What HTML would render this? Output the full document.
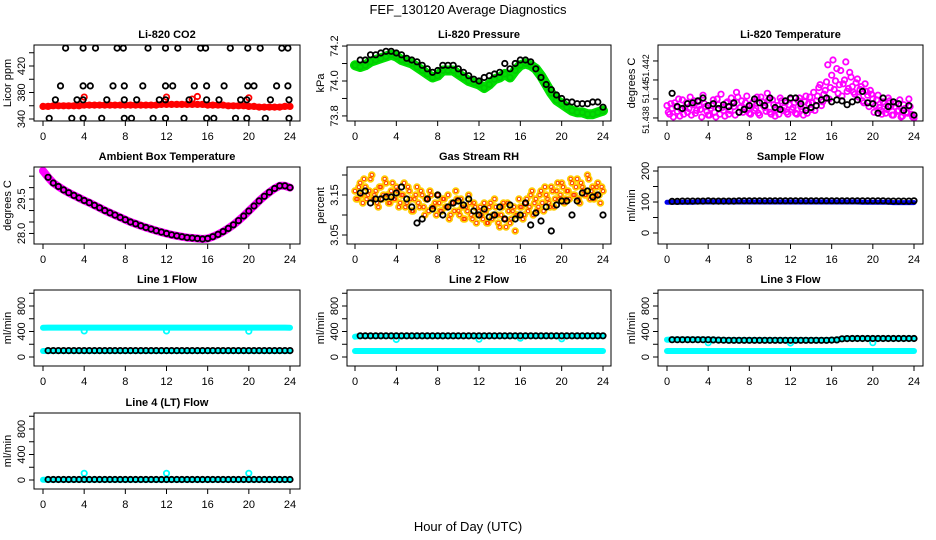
<!DOCTYPE html>
<html><head><meta charset="utf-8">
<style>
html,body{margin:0;padding:0;background:#fff;}
svg{display:block;font-family:"Liberation Sans",sans-serif;}
</style></head>
<body>
<svg id="chart" width="936" height="540" viewBox="0 0 936 540" xmlns="http://www.w3.org/2000/svg">
<rect width="936" height="540" fill="#fff"/>
<text x="468" y="14" text-anchor="middle" font-size="13">FEF_130120  Average Diagnostics</text>
<text x="468" y="531" text-anchor="middle" font-size="13">Hour of Day (UTC)</text>
</svg>
<script>
// ---------- data ----------
const bandHours = [0,0.5,1,1.5,2,2.5,3,3.5,4,4.5,5,5.5,6,6.5,7,7.5,8,8.5,9,9.5,10,10.5,11,11.5,12,12.5,13,13.5,14,14.5,15,15.5,16,16.5,17,17.5,18,18.5,19,19.5,20,20.5,21,21.5,22,22.5,23,23.5,24];
const avgHours = [0.5,1,1.5,2,2.5,3,3.5,4,4.5,5,5.5,6,6.5,7,7.5,8,8.5,9,9.5,10,10.5,11,11.5,12,12.5,13,13.5,14,14.5,15,15.5,16,16.5,17,17.5,18,18.5,19,19.5,20,20.5,21,21.5,22,22.5,23,23.5,24];
const noisyHoursA = [0,0.25,0.5,0.75,1,1.25,1.5,1.75,2,2.25,2.5,2.75,3,3.25,3.5,3.75,4,4.25,4.5,4.75,5,5.25,5.5,5.75,6,6.25,6.5,6.75,7,7.25,7.5,7.75,8,8.25,8.5,8.75,9,9.25,9.5,9.75,10,10.25,10.5,10.75,11,11.25,11.5,11.75,12,12.25,12.5,12.75,13,13.25,13.5,13.75,14,14.25,14.5,14.75,15,15.25,15.5,15.75,16,16.25,16.5,16.75,17,17.25,17.5,17.75,18,18.25,18.5,18.75,19,19.25,19.5,19.75,20,20.25,20.5,20.75,21,21.25,21.5,21.75,22,22.25,22.5,22.75,23,23.25,23.5,23.75,24];
const noisyHoursB = [0.125,0.375,0.625,0.875,1.125,1.375,1.625,1.875,2.125,2.375,2.625,2.875,3.125,3.375,3.625,3.875,4.125,4.375,4.625,4.875,5.125,5.375,5.625,5.875,6.125,6.375,6.625,6.875,7.125,7.375,7.625,7.875,8.125,8.375,8.625,8.875,9.125,9.375,9.625,9.875,10.125,10.375,10.625,10.875,11.125,11.375,11.625,11.875,12.125,12.375,12.625,12.875,13.125,13.375,13.625,13.875,14.125,14.375,14.625,14.875,15.125,15.375,15.625,15.875,16.125,16.375,16.625,16.875,17.125,17.375,17.625,17.875,18.125,18.375,18.625,18.875,19.125,19.375,19.625,19.875,20.125,20.375,20.625,20.875,21.125,21.375,21.625,21.875,22.125,22.375,22.625,22.875,23.125,23.375,23.625,23.875];

// CO2
const co2Band = [359,359,360,360,360,360,360,360,361,361,361,361,361,361,361,361,361,361,361,361,361,361,361,362,362,362,362,362,362,362,362,362,361,361,361,361,360,360,360,360,359,359,358,358,358,358,358,359,359];
const co2SpikeHours = [4,12,14.5,15,20];
const co2SpikeVals = [373,373,370,374,372];
const co2Hours = [2.2,3.9,5.1,7.2,7.8,10.2,11.9,13.1,15.3,15.8,18.2,19.9,21.1,23.2,23.8, 1.7,3.9,4.6,6.8,7.9,9.7,11.9,12.6,14.7,15.9,17.6,19.9,20.5,22.7,23.8, 1.2,3.3,3.9,6.2,7.9,9.1,11.3,11.9,14.2,15.9,17.1,19.2,19.8,22.1,23.9, 0.6,2.8,3.9,5.7,7.9,8.6,10.7,11.9,13.7,15.9,16.6,18.7,19.8,21.6,23.9];
const co2Vals = [447,447,447,447,447,447,447,447,447,447,447,447,447,447,447, 390,390,390,390,390,390,390,390,390,390,390,390,390,390,390, 369,369,369,369,369,369,369,369,369,369,369,369,369,369,369, 341,341,341,341,341,341,341,341,341,341,341,341,341,341,341];

// Pressure
const presBand = [74.09,74.08,74.09,74.11,74.12,74.13,74.14,74.15,74.14,74.12,74.11,74.10,74.08,74.06,74.04,74.02,74.03,74.06,74.06,74.06,74.04,74.02,74.00,73.99,73.98,73.96,73.98,74.01,74.02,74.04,74.02,74.06,74.09,74.10,74.09,74.07,74.03,73.98,73.93,73.89,73.87,73.85,73.83,73.82,73.82,73.81,73.81,73.82,73.83];
const presAvg = [74.12,74.12,74.15,74.15,74.16,74.17,74.17,74.16,74.15,74.13,74.12,74.11,74.09,74.07,74.05,74.06,74.09,74.09,74.09,74.07,74.05,74.03,74.01,74.00,74.02,74.03,74.04,74.05,74.10,74.07,74.10,74.12,74.12,74.11,74.07,74.02,73.98,73.95,73.92,73.90,73.88,73.88,73.87,73.87,73.87,73.88,73.88,73.85];

// Li-820 temperature
const tempA = [51.4393,51.4384,51.4390,51.4396,51.4387,51.4382,51.4399,51.4391,51.4386,51.4402,51.4394,51.4385,51.4397,51.4389,51.4404,51.4392,51.4383,
51.4390,51.4399,51.4381,51.4394,51.4405,51.4388,51.4396,51.4384,51.4401,51.4392,51.4407,51.4386,51.4398,51.4390,51.4403,51.4385,
51.4395,51.4388,51.4402,51.4383,51.4397,51.4391,51.4406,51.4386,51.4399,51.4382,51.4393,51.4401,51.4388,51.4396,51.4384,51.4400,
51.4391,51.4385,51.4398,51.4392,51.4383,51.4403,51.4395,51.4389,51.4407,51.4398,51.4412,51.4393,51.4405,51.4418,51.4400,51.4425,
51.4410,51.4432,51.4415,51.4403,51.4420,51.4408,51.4428,51.4413,51.4405,51.4421,51.4410,51.4398,51.4416,51.4404,51.4409,51.4400,
51.4393,51.4404,51.4388,51.4397,51.4385,51.4401,51.4392,51.4383,51.4396,51.4388,51.4381,51.4394,51.4386,51.4400,51.4384,51.4380];
const tempB = [51.4386,51.4395,51.4381,51.4392,51.4400,51.4389,51.4384,51.4396,51.4390,51.4383,51.4398,51.4388,51.4393,51.4381,51.4395,51.4387,
51.4383,51.4393,51.4386,51.4400,51.4384,51.4391,51.4382,51.4397,51.4388,51.4395,51.4383,51.4402,51.4391,51.4386,51.4396,51.4389,
51.4384,51.4397,51.4390,51.4385,51.4402,51.4393,51.4387,51.4399,51.4384,51.4394,51.4389,51.4384,51.4398,51.4391,51.4386,51.4394,
51.4389,51.4396,51.4384,51.4401,51.4389,51.4397,51.4385,51.4402,51.4396,51.4388,51.4403,51.4415,51.4397,51.4409,51.4436,51.4412,
51.4441,51.4419,51.4406,51.4430,51.4416,51.4439,51.4411,51.4423,51.4407,51.4417,51.4402,51.4413,51.4396,51.4408,51.4392,51.4405,
51.4386,51.4399,51.4391,51.4384,51.4395,51.4389,51.4398,51.4383,51.4392,51.4387,51.4399,51.4382,51.4390,51.4385,51.4392,51.4381];
const tempAvg = [51.4406,51.4392,51.4390,51.4395,51.4396,51.4398,51.4401,51.4393,51.4395,51.4390,51.4394,51.4392,51.4396,51.4386,51.4389,51.4393,51.4400,51.4396,51.4393,51.4401,51.4391,51.4389,51.4398,51.4401,51.4401,51.4395,51.4388,51.4391,51.4393,51.4399,51.4401,51.4397,51.4399,51.4398,51.4394,51.4397,51.4399,51.4408,51.4396,51.4395,51.4385,51.4401,51.4392,51.4397,51.4395,51.4388,51.4393,51.4383];

// Ambient box temperature
const ambBand = [30.73,30.45,30.20,30.05,29.90,29.78,29.66,29.55,29.44,29.34,29.23,29.12,29.00,28.90,28.80,28.70,28.60,28.50,28.42,28.34,28.26,28.19,28.12,28.06,28.00,27.94,27.90,27.86,27.82,27.80,27.78,27.76,27.78,27.86,27.96,28.08,28.22,28.38,28.56,28.76,28.98,29.20,29.42,29.62,29.80,29.96,30.08,30.08,30.00];
const ambAvg = [30.45,30.20,30.05,29.90,29.78,29.66,29.55,29.44,29.34,29.23,29.12,29.00,28.90,28.80,28.70,28.60,28.50,28.42,28.34,28.26,28.19,28.12,28.06,28.00,27.94,27.90,27.86,27.82,27.80,27.78,27.76,27.78,27.86,27.96,28.08,28.22,28.38,28.56,28.76,28.98,29.20,29.42,29.62,29.80,29.96,30.08,30.08,30.00];

// Gas stream RH
const rhA = [3.16,3.14,3.18,3.13,3.17,3.15,3.19,3.14,3.16,3.12,3.17,3.15,3.18,3.13,3.16,3.14,3.17,
3.12,3.15,3.18,3.13,3.16,3.11,3.14,3.17,3.12,3.15,3.10,3.14,3.16,3.12,3.13,3.15,
3.11,3.14,3.12,3.15,3.10,3.13,3.16,3.11,3.14,3.09,3.12,3.15,3.10,3.13,3.08,3.11,
3.10,3.13,3.08,3.12,3.09,3.14,3.10,3.07,3.12,3.09,3.13,3.08,3.11,3.06,3.10,3.12,
3.09,3.13,3.11,3.15,3.10,3.14,3.12,3.16,3.11,3.15,3.13,3.17,3.12,3.16,3.14,3.18,
3.13,3.16,3.14,3.18,3.15,3.19,3.13,3.17,3.15,3.20,3.14,3.17,3.15,3.18,3.13,3.16];
const rhB = [3.14,3.17,3.15,3.19,3.14,3.16,3.20,3.15,3.13,3.17,3.14,3.19,3.15,3.13,3.18,3.14,
3.16,3.13,3.15,3.12,3.17,3.14,3.11,3.15,3.13,3.16,3.12,3.14,3.11,3.15,3.12,3.10,
3.13,3.11,3.14,3.12,3.09,3.13,3.11,3.14,3.10,3.12,3.09,3.11,3.13,3.09,3.12,3.10,
3.12,3.09,3.11,3.08,3.13,3.10,3.12,3.08,3.10,3.13,3.07,3.11,3.09,3.12,3.10,3.14,
3.12,3.10,3.14,3.12,3.16,3.13,3.11,3.15,3.13,3.17,3.14,3.12,3.16,3.14,3.18,3.15,
3.17,3.14,3.16,3.19,3.15,3.17,3.14,3.18,3.16,3.15,3.19,3.16,3.14,3.17,3.15,3.17];
const rhAvg = [3.155,3.16,3.13,3.14,3.14,3.145,3.145,3.155,3.17,3.14,3.12,3.08,3.09,3.14,3.115,3.15,3.10,3.12,3.13,3.135,3.125,3.14,3.11,3.10,3.115,3.095,3.10,3.12,3.09,3.125,3.09,3.10,3.13,3.075,3.105,3.085,3.12,3.06,3.125,3.135,3.135,3.10,3.135,3.155,3.16,3.145,3.15,3.10];

// Sample flow
const sampBand = [99,99,99,99,99,99,100,100,100,100,100,100,100,100,100,100,100,100,100,100,100,100,100,100,100,100,100,100,100,100,100,100,100,100,100,100,100,100,99,99,99,99,99,99,98,98,98,98,98];
const sampAvg = [102,102,103,103,103,103,103,104,103,103,103,103,103,104,104,104,104,104,104,104,104,104,104,104,104,104,104,104,104,104,104,104,104,104,104,104,104,104,104,104,104,104,103,103,103,103,103,104];

// Line 1
const l1High = [460,462,462,462,462,462,462,462,462,462,462,462,462,462,462,462,462,462,462,462,462,462,462,462,462,462,462,462,462,462,462,462,462,462,462,462,462,462,462,462,462,462,462,462,462,462,462,462,460];
const l1Low = [95,95,95,95,95,95,95,95,95,95,95,95,95,95,95,95,95,95,95,95,95,95,95,95,95,95,95,95,95,95,95,95,95,95,95,95,95,95,95,95,95,95,95,95,95,95,95,95,95];
const l1Avg = [100,100,100,100,100,100,100,100,100,100,100,100,100,100,100,100,100,100,100,100,100,100,100,100,100,100,100,100,100,100,100,100,100,100,100,100,100,100,100,100,100,100,100,100,100,100,100,100];
const l1DipHours = [4,12,20];
const l1DipVals = [410,410,405];

// Line 2
const l2High = [318,330,330,330,330,330,330,330,330,330,330,330,330,330,330,330,330,330,330,330,330,330,330,330,330,330,330,330,330,330,330,330,330,330,330,330,330,330,330,330,330,330,330,330,330,330,330,330,330];
const l2Low = [95,95,95,95,95,95,95,95,95,95,95,95,95,95,95,95,95,95,95,95,95,95,95,95,95,95,95,95,95,95,95,95,95,95,95,95,95,95,95,95,95,95,95,95,95,95,95,95,95];
const l2Avg = [332,332,332,332,332,332,332,332,332,332,332,332,332,332,332,332,332,332,332,332,332,332,332,332,332,332,332,332,332,332,332,332,332,332,332,332,332,332,332,332,332,332,332,332,332,332,332,332];
const l2DipHours = [4,12,16,20];
const l2DipVals = [275,280,295,285];

// Line 3
const l3High = [272,275,275,275,275,275,275,275,272,270,268,266,265,265,265,265,265,265,265,265,265,265,265,265,265,265,265,265,265,265,265,265,268,272,285,290,290,290,290,290,290,290,290,290,290,290,290,290,290];
const l3Low = [95,95,95,95,95,95,95,95,95,95,95,95,95,95,95,95,95,95,95,95,95,95,95,95,95,95,95,95,95,95,95,95,95,95,95,95,95,95,95,95,95,95,95,95,95,95,95,95,95];
const l3Avg = [272,272,272,272,272,272,272,272,268,266,264,262,262,262,262,262,262,262,262,262,262,262,262,262,262,262,262,262,262,262,262,265,268,285,288,290,290,290,290,290,290,290,290,290,290,290,290,290];
const l3DipHours = [4,12,20];
const l3DipVals = [225,220,225];

// Line 4
const l4Band = [5,5,5,5,5,5,5,5,5,5,5,5,5,5,5,5,5,5,5,5,5,5,5,5,5,5,5,5,5,5,5,5,5,5,5,5,5,5,5,5,5,5,5,5,5,5,5,5,5];
const l4Avg = [8,8,8,8,8,8,8,8,8,8,8,8,8,8,8,8,8,8,8,8,8,8,8,8,8,8,8,8,8,8,8,8,8,8,8,8,8,8,8,8,8,8,8,8,8,8,8,8];
const l4OutHours = [4,12,20];
const l4OutVals = [105,105,105];

// x-axis ticks
const xTicks = [0,4,8,12,16,20,24];

// ---------- drawing ----------
const NS = "http://www.w3.org/2000/svg";
const svg = document.getElementById('chart');
function mk(tag, attrs, parent){
  const e = document.createElementNS(NS, tag);
  for (const k in attrs) e.setAttribute(k, attrs[k]);
  (parent||svg).appendChild(e);
  return e;
}
const cols = [{l:34,r:300,x0:43,x1:290},{l:347,r:611,x0:355,x1:603},{l:658,r:923,x0:667,x1:914}];
const rows = [{t:45,b:121},{t:167,b:244},{t:290,b:366},{t:413,b:489}];

function panel(name, title, ylab, c, r, ymin, ymax, yTicks, yLabels, labelPos, labelSize){
  const C = cols[c], R = rows[r];
  const g = mk('g', {});
  
  
  const xs = h => C.x0 + (h/24)*(C.x1-C.x0);
  const ys = v => R.b - (v-ymin)/(ymax-ymin)*(R.b-R.t);
  const t = mk('text', {x:(C.l+C.r)/2, y:R.t-7, 'text-anchor':'middle', 'font-size':11, 'font-weight':'bold'}, g);
  t.textContent = title;
  
  
  const yl = mk('text', {x:0, y:0, 'text-anchor':'middle', 'font-size':11, transform:`translate(${C.l-23},${(R.t+R.b)/2}) rotate(-90)`}, g);
  yl.textContent = ylab;
  
  
  const xa = mk('g', {}, g);
  
  
  mk('line', {x1:xs(xTicks[0]), x2:xs(xTicks[xTicks.length-1]), y1:R.b, y2:R.b, stroke:'#000'}, xa);
  xTicks.forEach(v => {
    mk('line', {x1:xs(v), x2:xs(v), y1:R.b, y2:R.b+5, stroke:'#000'}, xa);
    const tl = mk('text', {x:xs(v), y:R.b+19, 'text-anchor':'middle', 'font-size':11}, xa);
    tl.textContent = String(v);
    
    
  });
  const ya = mk('g', {}, g);
  
  
  mk('line', {x1:C.l, x2:C.l, y1:ys(yTicks[0]), y2:ys(yTicks[yTicks.length-1]), stroke:'#000'}, ya);
  yTicks.forEach((v,i) => {
    mk('line', {x1:C.l-5, x2:C.l, y1:ys(v), y2:ys(v), stroke:'#000'}, ya);
    if (yLabels[i] !== '') {
      const yy = labelPos ? labelPos[i] : ys(v);
      const tl = mk('text', {x:0, y:0, 'text-anchor':'middle', 'font-size':labelSize||11, transform:`translate(${C.l-9},${yy}) rotate(-90)`}, ya);
      tl.textContent = yLabels[i];
      
      
    }
  });
  const clipId = 'clip-' + name;
  const cp = mk('clipPath', {id:clipId}, g);
  mk('rect', {x:C.l, y:R.t, width:C.r-C.l, height:R.b-R.t}, cp);
  const plot = mk('g', {'clip-path':`url(#${clipId})`}, g);
  
  
  const box = mk('rect', {x:C.l, y:R.t, width:C.r-C.l, height:R.b-R.t, fill:'none', stroke:'#000'}, g);
  
  
  return {xs, ys, plot, box, g};
}
function band(P, hours, vals, color, w, nm){
  const d = hours.map((h,i) => (i?'L':'M') + P.xs(h).toFixed(1) + ',' + P.ys(vals[i]).toFixed(1)).join(' ');
  const p = mk('path', {d, fill:'none', stroke:color, 'stroke-width':w, 'stroke-linecap':'round', 'stroke-linejoin':'round'}, P.plot);
  
  
}
function pts(P, hours, vals, color, nm, r, sw){
  const gg = mk('g', {}, P.plot);
  
  
  hours.forEach((h,i) => {
    const c = mk('circle', {cx:P.xs(h).toFixed(1), cy:P.ys(vals[i]).toFixed(1), r:r||2.7, fill:'none', stroke:color, 'stroke-width':sw||1.8}, gg);
    
    
  });
}
const flowTicks = [0,200,400,600,800,1000], flowLabels = ['0','','400','','800',''];

let P = panel('co2', 'Li-820 CO2', 'Licor ppm', 0, 0, 337.0, 451.7, [340,360,380,400,420,440], ['340','','380','','420','']);
band(P, bandHours, co2Band, '#ff0000', 6, 'co2-band');
pts(P, bandHours, co2Band, '#ff0000', 'co2-raw');
pts(P, co2SpikeHours, co2SpikeVals, '#ff0000', 'co2-spikes');
pts(P, co2Hours, co2Vals, '#000', 'co2-avg');

P = panel('pressure', 'Li-820 Pressure', 'kPa', 1, 0, 73.771, 74.206, [73.8,73.9,74.0,74.1,74.2], ['73.8','','74.0','','74.2']);
band(P, bandHours, presBand, '#00e000', 10, 'pressure-band');
pts(P, bandHours, presBand, '#00cc00', 'pressure-raw');
pts(P, avgHours, presAvg, '#000', 'pressure-avg');

P = panel('li820-temp', 'Li-820 Temperature', 'degrees C', 2, 0, 51.43768, 51.44568, [51.438,51.440,51.442,51.444], ['51.438','51.44','51.442',''], [120,92,68,61], 9);
pts(P, noisyHoursA, tempA, '#ff00ff', 'temp-raw-a');
pts(P, noisyHoursB, tempB, '#ff00ff', 'temp-raw-b');
pts(P, avgHours, tempAvg, '#000', 'temp-avg');

P = panel('ambient', 'Ambient Box Temperature', 'degrees C', 0, 1, 27.54, 30.90, [28.0,28.5,29.0,29.5,30.0,30.5], ['28.0','','','29.5','','']);
band(P, bandHours, ambBand, '#ff00ff', 8, 'ambient-band');
pts(P, avgHours, ambAvg, '#000', 'ambient-avg');

P = panel('rh', 'Gas Stream RH', 'percent', 1, 1, 3.0275, 3.22, [3.05,3.10,3.15,3.20], ['3.05','','3.15','']);
pts(P, noisyHoursA, rhA, '#ffcc00', 'rh-raw-a', 2.7, 2.2);
pts(P, noisyHoursB, rhB, '#ffcc00', 'rh-raw-b', 2.7, 2.2);
pts(P, noisyHoursA, rhA, '#ff3300', 'rh-raw-a-core', 1.6, 0.8);
pts(P, noisyHoursB, rhB, '#ff3300', 'rh-raw-b-core', 1.6, 0.8);
pts(P, avgHours, rhAvg, '#000', 'rh-avg');

P = panel('sample-flow', 'Sample Flow', 'ml/min', 2, 1, -35.5, 212.9, [0,50,100,150,200], ['0','','100','','200']);
band(P, bandHours, sampBand, '#0000ee', 5, 'sample-band');
pts(P, avgHours, sampAvg, '#000', 'sample-avg');

P = panel('line1', 'Line 1 Flow', 'ml/min', 0, 2, -141, 1051, flowTicks, flowLabels);
band(P, bandHours, l1High, '#00ffff', 6, 'line1-high-band');
band(P, bandHours, l1Low, '#00ffff', 6, 'line1-low-band');
pts(P, l1DipHours, l1DipVals, '#00ffff', 'line1-dips');
pts(P, avgHours, l1Avg, '#000', 'line1-avg');

P = panel('line2', 'Line 2 Flow', 'ml/min', 1, 2, -141, 1051, flowTicks, flowLabels);
band(P, bandHours, l2High, '#00ffff', 6, 'line2-high-band');
band(P, bandHours, l2Low, '#00ffff', 6, 'line2-low-band');
pts(P, l2DipHours, l2DipVals, '#00ffff', 'line2-dips');
pts(P, avgHours, l2Avg, '#000', 'line2-avg');

P = panel('line3', 'Line 3 Flow', 'ml/min', 2, 2, -141, 1051, flowTicks, flowLabels);
band(P, bandHours, l3High, '#00ffff', 6, 'line3-high-band');
band(P, bandHours, l3Low, '#00ffff', 6, 'line3-low-band');
pts(P, l3DipHours, l3DipVals, '#00ffff', 'line3-dips');
pts(P, avgHours, l3Avg, '#000', 'line3-avg');

P = panel('line4', 'Line 4 (LT) Flow', 'ml/min', 0, 3, -141, 1051, flowTicks, flowLabels);
band(P, bandHours, l4Band, '#00ffff', 6, 'line4-band');
pts(P, l4OutHours, l4OutVals, '#00ffff', 'line4-outliers');
pts(P, avgHours, l4Avg, '#000', 'line4-avg');
</script>
</body></html>
